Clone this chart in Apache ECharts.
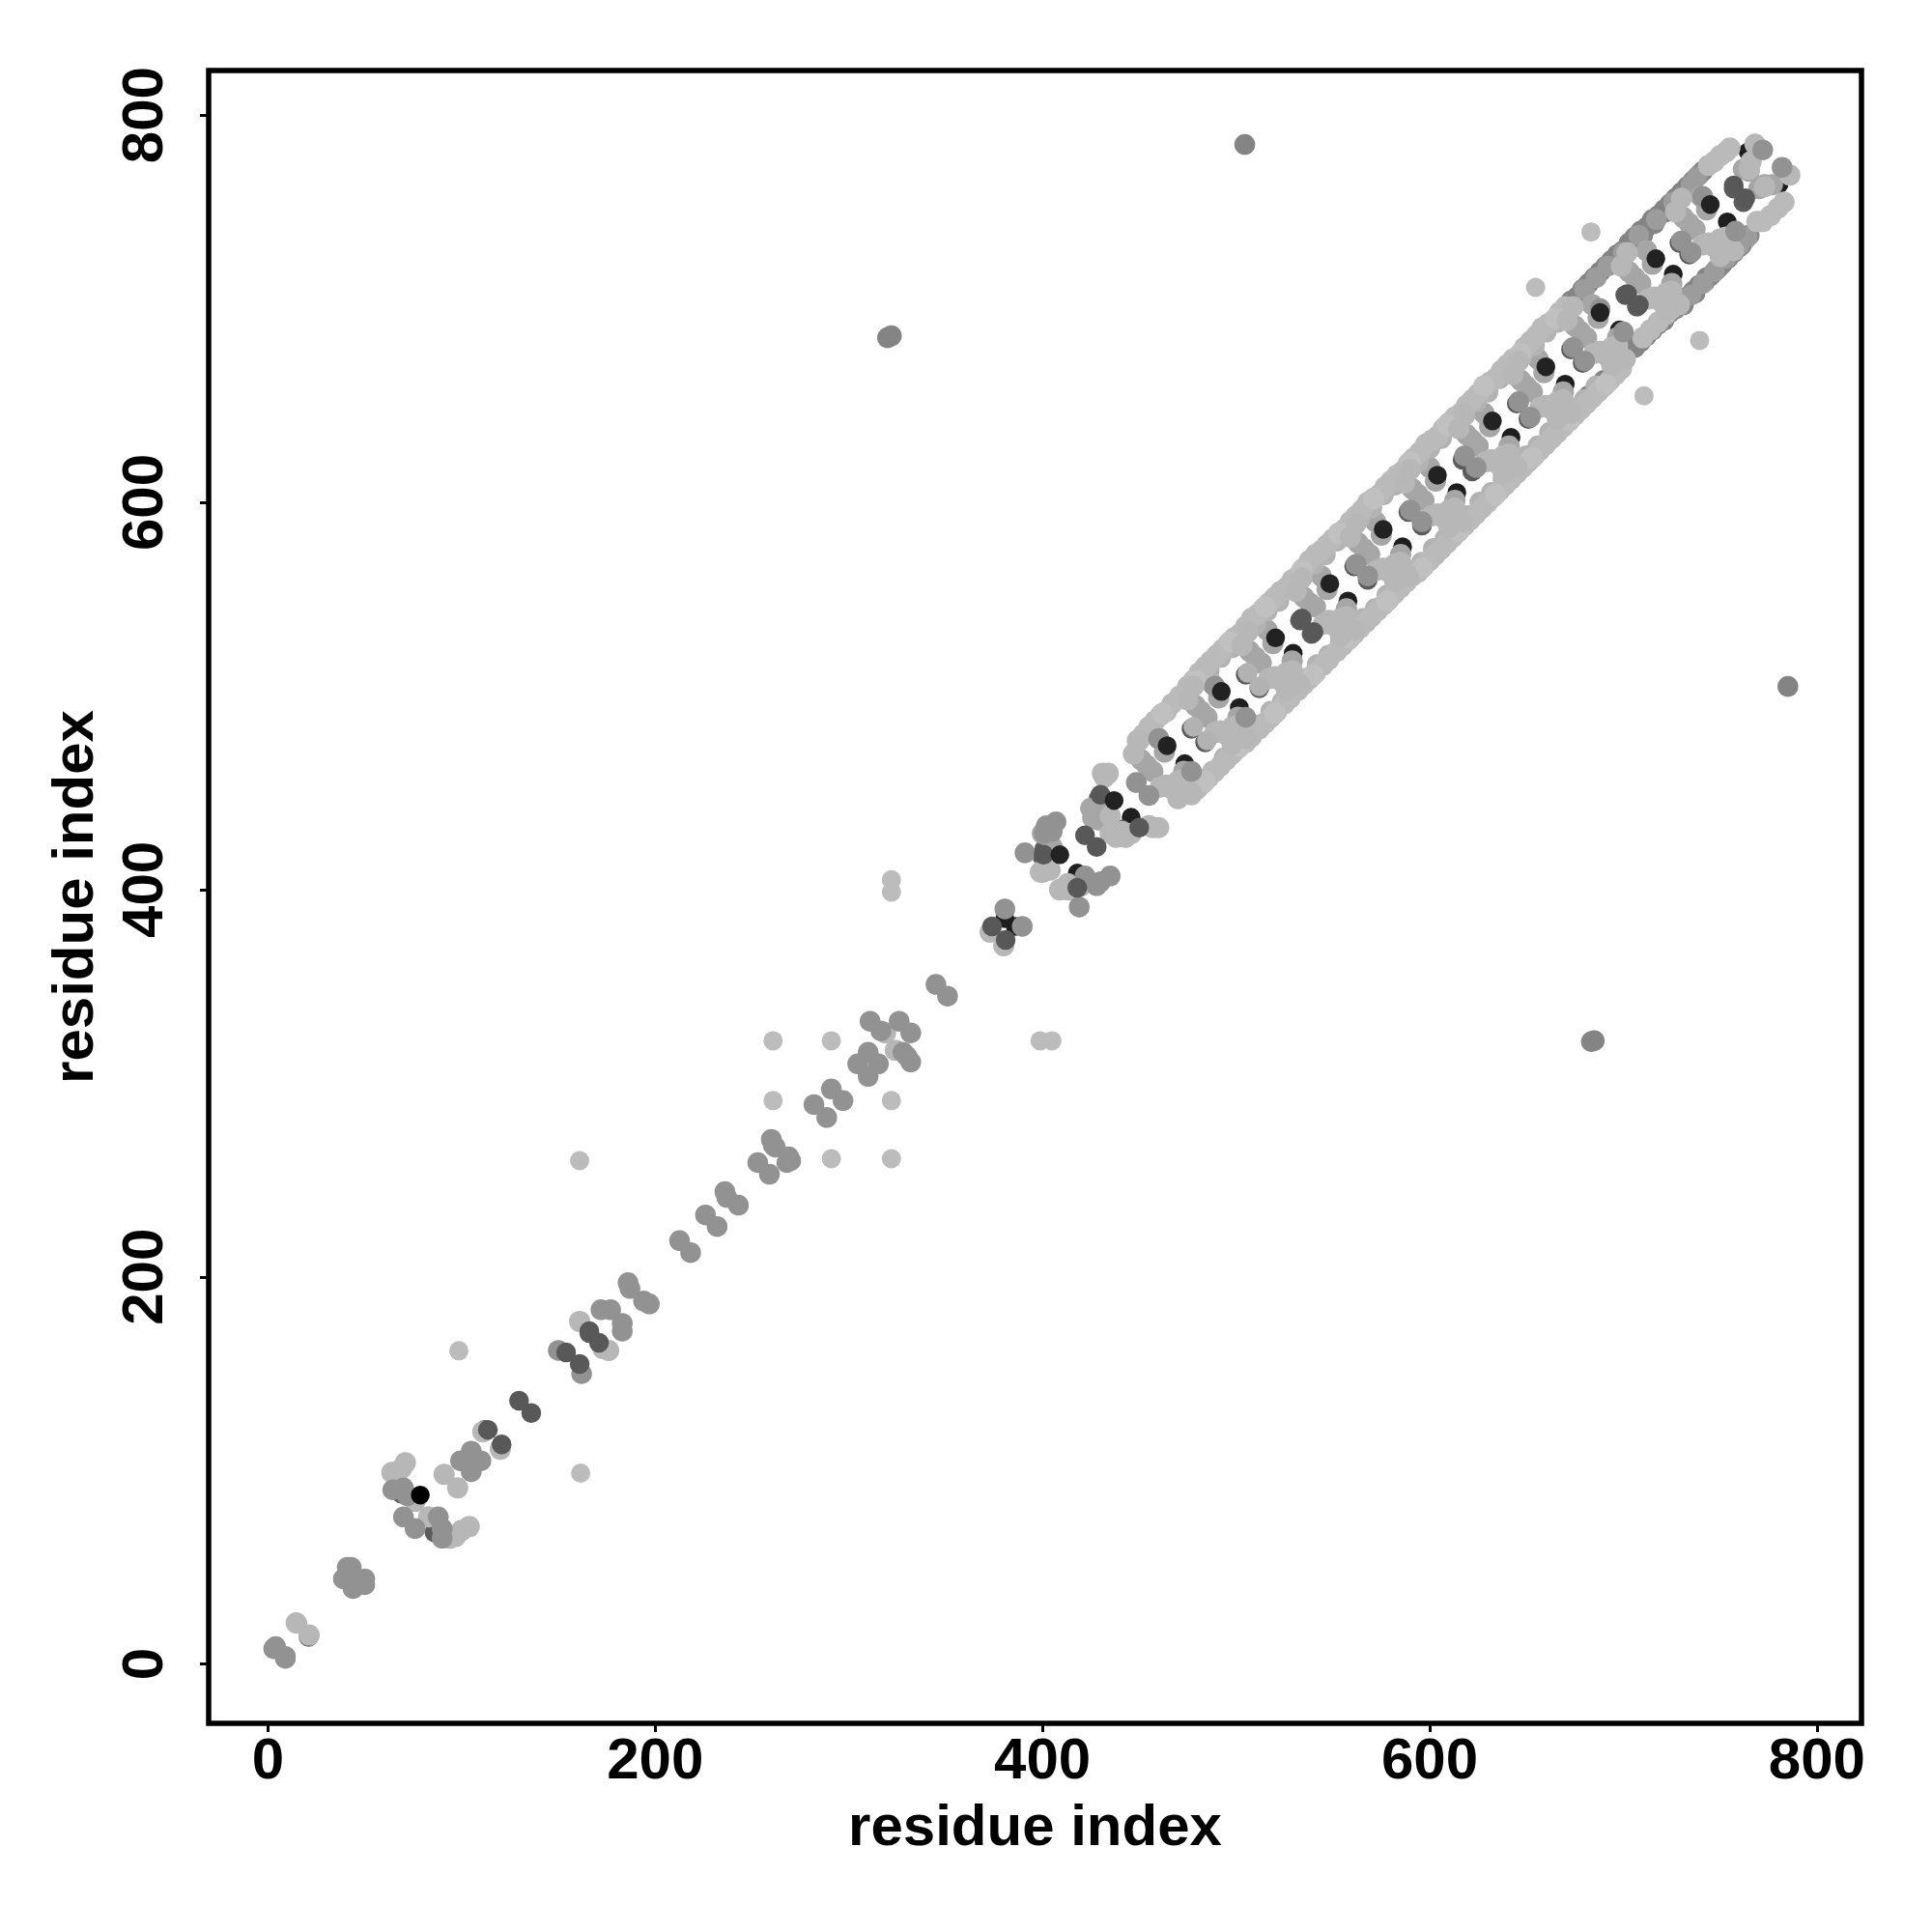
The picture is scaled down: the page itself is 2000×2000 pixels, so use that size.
<!DOCTYPE html>
<html><head><meta charset="utf-8">
<script src="https://cdn.jsdelivr.net/npm/echarts@6/dist/echarts.min.js"></script>
<style>html,body{margin:0;padding:0;background:#fff}#c{width:2000px;height:2000px}</style></head>
<body><div id="c"></div>
<script>
const tickValues=[0,200,400,600,800];
const axisTitle='residue index';
// points per grey level, bottom layer first
const blackUnder=[[473.5,465],[501.7,494],[529.5,522],[557.8,549],[586,577],[614,605],[642,633.5],[670,661],[698,689],[725.8,717.8],[753.7,744.8],[445.8,437.3],[418,408.5],[419,401],[780.5,764.4],[764.5,781],[386,381],[380.6,385]];
const darkUnder=[[477,483],[484,476],[505,511],[512,504],[533,539],[539,532],[561,567],[568,560],[589,595],[596,588],[617,622],[622,616],[645,651],[651,643],[673,679],[679,672],[701,707],[707,701],[729,734],[734,728],[757,762],[762,755],[69,88],[86,68],[166,171],[112,121],[120,112],[15,21],[21,14],[429,447],[400,417],[401,421],[441,431]];
const bandDark=[[676,706],[679,710],[682,713],[685,716],[688,719],[691,722],[694,725],[697,728],[700,730],[703,734],[706,737],[709,740],[712,742],[715,746],[718,748],[721,751],[724,754],[727,757],[730,760],[733,763],[736,766],[739,769],[741,771],[698,726],[704,732],[710,738],[716,744],[722,750],[728,755],[734,761],[706,680],[709,683],[712,686],[715,689],[718,692],[721,694],[724,698],[727,700],[730,703],[733,706],[736,709],[739,712],[742,714],[745,717],[748,720],[751,723],[754,726],[757,729],[760,732],[763,736],[765,738],[731,702],[737,708],[743,716],[749,721],[755,728],[761,733],[673,704],[682,655],[690,663],[696,669],[700,674],[322,686],[320,685],[685,322],[683.5,321.5],[504.5,784.8],[785,504.9]];
const bandStripe=[[680,710],[686,716],[692,722],[700,729],[708,738],[717,746],[726,755],[735,764],[738,768],[735,707],[741,713],[747,719],[753,726],[760,733],[764,737]];
const midLeaf=[[454,464],[451,467],[457,461],[460,478],[463,471],[482,492],[479,495],[485,489],[488,506],[491,499],[510,520],[507,523],[513,517],[516,534],[519,527],[538,548],[541,546],[535,551],[544,562],[547,555],[566,576],[569,573],[563,579],[572,590],[575,583],[594,604],[597,601],[591,607],[600,618],[603,611],[622,632],[625,629],[619,635],[628,646],[631,639],[650,660],[653,657],[647,663],[656,674],[659,667],[678,688],[681,685],[675,691],[684,702],[687,695],[706,716],[709,713],[703,719],[712,730],[715,723],[734,744],[737,741],[731,747],[740,758],[743,751],[762,772],[765,771],[773,764],[770,762],[777,764],[426,437],[429,436],[425,442],[430,444],[400,409],[402,413],[405,422],[400,429],[413,400],[409,400],[473,461],[501,489],[529,518],[557,545],[585,573],[613,601],[641,629],[669,657],[697,685],[725,713]];
const bandInner=[[474,502],[480,508],[486,513],[492,520],[498,525],[504,532],[510,537],[516,544],[522,549],[528,556],[534,561],[540,568],[546,573],[552,580],[558,585],[564,592],[570,597],[576,604],[582,609],[588,616],[594,621],[600,628],[606,633],[612,640],[618,645],[624,652],[630,657],[636,664],[642,669],[648,676],[654,681],[660,688],[666,693],
[482,455],[488,461],[494,468],[500,473],[506,480],[512,485],[518,492],[524,497],[530,504],[536,509],[542,516],[548,521],[554,528],[560,533],[566,540],[572,545],[578,552],[584,557],[590,564],[596,569],[602,576],[608,581],[614,588],[620,593],[626,600],[632,605],[638,612],[644,617],[650,624],[656,629],[662,636],[668,641],[674,648],[680,653],[686,660]];
const bandLight=[[449,477],[452,480],[455,484],[458,487],[461,490],[464,492],[467,496],[471,500],[475,505],[478,508],[481,512],[484,515],[487,518],[490,521],[493,524],[496,527],[499,530],[502,532],[505,536],[508,540],[511,542],[514,545],[517,548],[520,551],[523,554],[526,556],[529,560],[532,562],[535,566],[538,570],[541,573],[544,575],[547,578],[550,581],[553,584],[556,586],[559,590],[562,593],[565,596],[568,600],[571,602],[574,604],[577,608],[580,611],[583,614],[586,616],[589,620],[592,623],[595,626],[598,630],[601,632],[604,634],[607,638],[610,641],[613,644],[616,646],[619,650],[622,653],[625,656],[628,660],[631,662],[634,664],[637,668],[640,671],[643,674],[646,676],[649,680],[652,683],[655,686],[658,690],[661,692],[664,694],[667,698],[670,701],[744,774],[747,776],[750,779],[753,781],[755,783],
[477,449],[480,452],[483,455],[486,458],[489,461],[492,464],[495,467],[498,470],[501,473],[505,476],[508,479],[512,483],[515,486],[518,489],[521,492],[525,496],[528,499],[532,503],[535,506],[538,509],[541,512],[545,516],[548,519],[552,523],[555,526],[558,529],[561,532],[564,535],[567,538],[570,541],[573,544],[576,547],[579,550],[582,553],[585,556],[588,559],[591,562],[594,564],[597,567],[600,570],[603,573],[606,576],[609,579],[612,582],[615,585],[618,588],[621,591],[624,594],[627,597],[630,600],[633,603],[636,606],[639,609],[642,612],[645,615],[648,618],[651,621],[654,624],[657,627],[660,630],[663,633],[666,636],[669,639],[672,642],[675,645],[678,648],[681,651],[684,654],[687,657],[690,660],[693,663],[696,666],[699,669],[710,685],[714,689],[718,693],[722,697],[725,700],[769,745],[772,745],[776,748],[780,752],[783,755]];
const bandPale=[[462,491],[479,508],[497,528],[515,546],[534,565],[553,584],[571,602],[590,621],[609,640],[628,660],[647,677],[665,695],[484,456],[502,474],[520,491],[540,511],[559,530],[578,549],[596,566],[615,585],[634,604],[653,623],[672,642],[691,661]];
const blobLight=[[464,454],[461,453],[467,452],[470,456],[473,457],[470,447],[477,450],[447,470],[450,477],[492,482],[489,481],[495,480],[498,484],[501,485],[498,475],[505,478],[475,498],[478,505],[520,510],[517,509],[523,508],[526,512],[529,513],[526,503],[533,506],[503,526],[506,533],[548,539],[545,537],[551,536],[554,540],[557,541],[554,531],[561,534],[531,554],[534,561],[576,566],[573,565],[579,564],[582,568],[585,569],[582,559],[589,562],[559,582],[562,589],[604,594],[601,593],[607,592],[610,596],[613,597],[610,587],[617,590],[587,610],[590,617],[632,622],[629,621],[635,620],[638,624],[641,625],[638,615],[645,618],[615,638],[618,645],[660,650],[657,649],[663,648],[666,652],[669,653],[666,643],[673,646],[643,666],[646,673],[688,678],[685,677],[691,676],[694,680],[697,681],[694,671],[701,674],[671,694],[674,701],[716,706],[713,705],[719,704],[722,708],[725,709],[722,699],[729,702],[699,722],[702,729],[744,734],[741,733],[747,732],[750,736],[753,737],[750,727],[757,730],[727,750],[730,757],[765,772],[768,785],[766,776],[773,763],[786,769],
[71,104],[69,101],[66,98],[64,99],[76,84],[83,76],[97,66],[104,71],[100,69],[94,65],[91,98],[98,91],[14.6,21.3],[21.3,15],[161,177],[176,162],[173,163],[111,120],[120,111],[431,460],[434,460],[432,458],[438,427],[435,429],[443,427],[460,432],[457,432],[455,433],[420,402],[399,409],[409,400],[414,400],[446,429],[441,430],[435,438],[413,403],[404,410],[324,317],[319,326],[373,378],[380,371]];
const outliers=[[161,260],[98.6,161.8],[161.5,98.6],[322,405],[322,398.7],[260.9,321.9],[291,321.9],[260.9,291],[322,291],[291,261],[322,261],[398.8,321.9],[404.9,321.9],[654.7,711],[710.7,655],[683.3,739.6],[739.4,683.6]];
const greyMid=[[4,9],[3,8],[9,3],[9,4],[39,44],[40,44],[41,50],[43,50],[44,39],[50,44],[50,41],[44,40],[64.5,90],[70,91],[72,87],[70,76],[76,70],[88,76],[90,70],[90,65],[105,110],[99.5,105],[110,105],[105,99.4],[150,162],[162,150],[172,183],[177,183],[183,176],[183,172],[186,197],[187,194],[194,187.5],[197,186],[212.6,218.7],[218.3,212.5],[226,232],[232,226],[236,244],[237,241],[243,237],[253,259],[259,253],[260,271],[261,268],[262,267],[269,262],[270,260],[268,259],[291,297],[297,291],[282,289],[288.6,282.3],[310,316],[304.6,310],[315.3,310],[310,303.5],[311,332],[316.6,327],[326,332],[332,326],[328,316],[332,311],[330,314],[345,351],[351,345],[380.6,390],[389.6,381],[391,419],[419,391],[407,435],[402,433],[401,429],[405,430],[422,407],[428,402],[430,404],[435,407],[448.5,455.3],[455,448.6],[460,478],[477,461],[505,489],[489,505],[562,568],[568,562],[590,596],[596,590],[618,624],[624,618],[646,652],[652,644],[674,680],[680,673],[730,735],[735,729],[772,782],[782,773],[758,740],[741,758],[688,700],[700,688]];
const pairLight=[[478,484],[485,477],[506,512],[512,505]];
const greyDark=[[113.6,121],[120.7,113.5],[129.7,136],[136,129.7],[154,161],[161,155],[166,172],[171,166],[400.6,418],[418,401],[422,428],[428,422],[430,449],[450,432],[374,381],[381,374],[534,540],[540,533],[702,707.5],[708,702],[757,763.6],[763,757]];
const blackTop=[[464.4,474.3],[492.4,502.3],[520.4,530],[548.4,558],[576,586],[604,614],[632.4,642],[660,670],[688,698],[716.8,725.8],[744.9,753.8],[437,446],[409,418]];
const blackLow=[[78.7,87.3]];
const grid={left:216,top:73,width:1711,height:1711,show:true,borderColor:'#000',borderWidth:5.5,backgroundColor:'#fff'};
function axis(isY){return {type:'value',min:-30.6,max:823,name:axisTitle,nameLocation:'middle',
 nameGap:isY?107:79,nameRotate:isY?90:0,
 nameTextStyle:{fontFamily:'Liberation Sans',fontWeight:'bold',fontSize:60,color:'#000'},
 axisLine:{show:false,onZero:false},splitLine:{show:false},
 axisTick:{show:true,length:9,lineStyle:{color:'#000',width:3},customValues:tickValues},
 axisLabel:{show:true,margin:isY?35:10,rotate:isY?90:0,fontFamily:'Liberation Sans',fontWeight:'bold',fontSize:60,color:'#000',customValues:tickValues,hideOverlap:false}};}
function s(name,data,color,size){return {name,type:'scatter',data,symbol:'circle',symbolSize:size,itemStyle:{color,opacity:1},silent:true,animation:false,large:false};}
const chart=echarts.init(document.getElementById('c'),null,{renderer:'canvas'});
chart.setOption({animation:false,backgroundColor:'#fff',grid,xAxis:axis(false),yAxis:axis(true),series:[
 s('blackUnder',blackUnder,'#1e1e1e',19.5),
 s('darkUnder',darkUnder,'#5c5c5c',20.5),
 s('bandDark',bandDark,'#848484',21.5),
 s('bandStripe',bandStripe,'#9c9c9c',21.5),
 s('midLeaf',midLeaf,'#a6a6a6',22),
 s('bandInner',bandInner,'#b3b3b3',22),
 s('bandLight',bandLight,'#bababa',22),
 s('bandPale',bandPale,'#c0c0c0',22),
 s('blobLight',blobLight,'#b7b7b7',22),
 s('outliers',outliers,'#bcbcbc',20),
 s('greyMid',greyMid,'#929292',21.5),
 s('pairLight',pairLight,'#b2b2b2',20.5),
 s('greyDark',greyDark,'#585858',20.5),
 s('blackTop',blackTop,'#222222',19.5),
 s('blackLow',blackLow,'#000000',19.5)
]});
</script></body></html>
